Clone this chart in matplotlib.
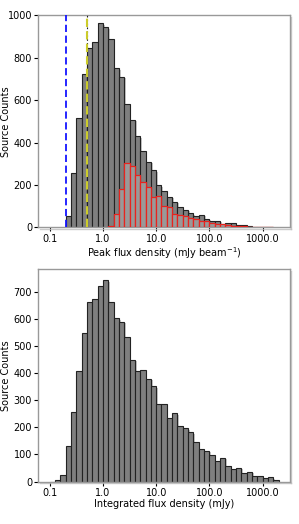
import numpy as np
import matplotlib
matplotlib.use("Agg")
import matplotlib.pyplot as plt
import matplotlib.patheffects as pe
from matplotlib.ticker import FixedLocator, FixedFormatter, NullLocator

# ---- data (log10 bin edges, 0.1 dex) ----
peak_log_start = -0.7
peak_counts = [55, 258, 515, 721, 846, 876, 961, 943, 890, 749, 711, 583, 506,
               430, 361, 310, 269, 199, 170, 145, 121, 98, 82, 67, 56, 59, 42,
               28, 31, 17, 20, 20, 10, 12, 6, 4, 3, 3, 2]
red_log_start = 0.1
red_counts = [7, 64, 180, 302, 288, 245, 216, 192, 145, 148, 100, 98, 62, 60,
              55, 45, 40, 32, 28, 20, 18, 15, 12, 8, 6, 5, 3, 2, 2, 1, 1]
int_log_start = -1.0
int_counts = [0, 5, 26, 130, 256, 408, 549, 661, 675, 721, 743, 661, 603, 589,
              533, 449, 408, 410, 378, 352, 286, 286, 233, 252, 204, 197, 181,
              146, 119, 114, 99, 77, 87, 58, 47, 50, 32, 37, 21, 22, 13, 15, 6]
vline_blue = 0.2
vline_yellow = 0.5
xtick_vals = [0.1, 1.0, 10.0, 100.0, 1000.0]
xtick_labels = ["0.1", "1.0", "10.0", "100.0", "1000.0"]

plt.rcParams['font.family'] = ['DejaVu Sans']
plt.rcParams['font.size'] = 7

fig = plt.figure(figsize=(2.99, 5.24), dpi=100)
ax1 = fig.add_axes([0.128, 0.566, 0.842, 0.405])
ax2 = fig.add_axes([0.128, 0.081, 0.842, 0.405])

shadow = [pe.SimplePatchShadow(offset=(1.2, -1.0), shadow_rgbFace='0.72', alpha=0.8), pe.Normal()]


def edges(start, n):
    return 10 ** (start + 0.1 * np.arange(n + 1))


def draw_hist(ax, start, counts, fc, ec, lw, z, pes=None, alpha=1.0):
    e = edges(start, len(counts))
    centers = np.sqrt(e[:-1] * e[1:])
    _, _, patches = ax.hist(centers, bins=e, weights=counts, facecolor=fc,
                            edgecolor=ec, linewidth=lw, zorder=z, alpha=alpha)
    if pes:
        for p in patches:
            p.set_path_effects(pes)


draw_hist(ax1, peak_log_start, peak_counts, '#7f7f7f', '#222222', 0.8, 2, shadow)
draw_hist(ax1, red_log_start, red_counts, (0.6, 0.6, 0.6, 0.35), '#e8231e', 0.9, 3)
ax1.axvline(vline_blue, color='#1515ff', ls=(0, (4, 2)), lw=1.3, zorder=4)
ax1.axvline(vline_yellow, color='#222222', ls=(0, (1.5, 2)), lw=0.8, zorder=4)
ax1.axvline(vline_yellow, color='#cccc2a', ls=(0, (4, 2)), lw=1.5, zorder=5)

draw_hist(ax2, int_log_start, int_counts, '#7f7f7f', '#222222', 0.8, 2, shadow)

xl = (10 ** -1.215, 10 ** 3.515)
for ax in (ax1, ax2):
    ax.set_xscale('log')
    ax.set_xlim(*xl)
    ax.xaxis.set_major_locator(FixedLocator(xtick_vals))
    ax.xaxis.set_major_formatter(FixedFormatter(xtick_labels))
    ax.xaxis.set_minor_locator(NullLocator())
    ax.set_ylabel('Source Counts', fontsize=7)
    ax.yaxis.set_label_coords(-0.11, 0.5)
    for s in ax.spines.values():
        s.set_color('0.6')
        s.set_linewidth(1.0)
    for s in ('right', 'bottom'):
        ax.spines[s].set_path_effects([pe.SimpleLineShadow(offset=(1, -1), shadow_color='0.75', alpha=0.8), pe.Normal()])
    ax.tick_params(axis='both', length=3, width=0.8, labelsize=7, pad=1.5, color='black')

ax1.set_ylim(0, 1000)
ax1.set_yticks([0, 200, 400, 600, 800, 1000])
ax1.set_xlabel(r'Peak flux density (mJy beam$^{-1}$)', fontsize=7, labelpad=1)

ax2.set_ylim(0, 783)
ax2.set_yticks([0, 100, 200, 300, 400, 500, 600, 700])
ax2.set_xlabel('Integrated flux density (mJy)', fontsize=7, labelpad=1)

fig.savefig('out.png', dpi=100)
